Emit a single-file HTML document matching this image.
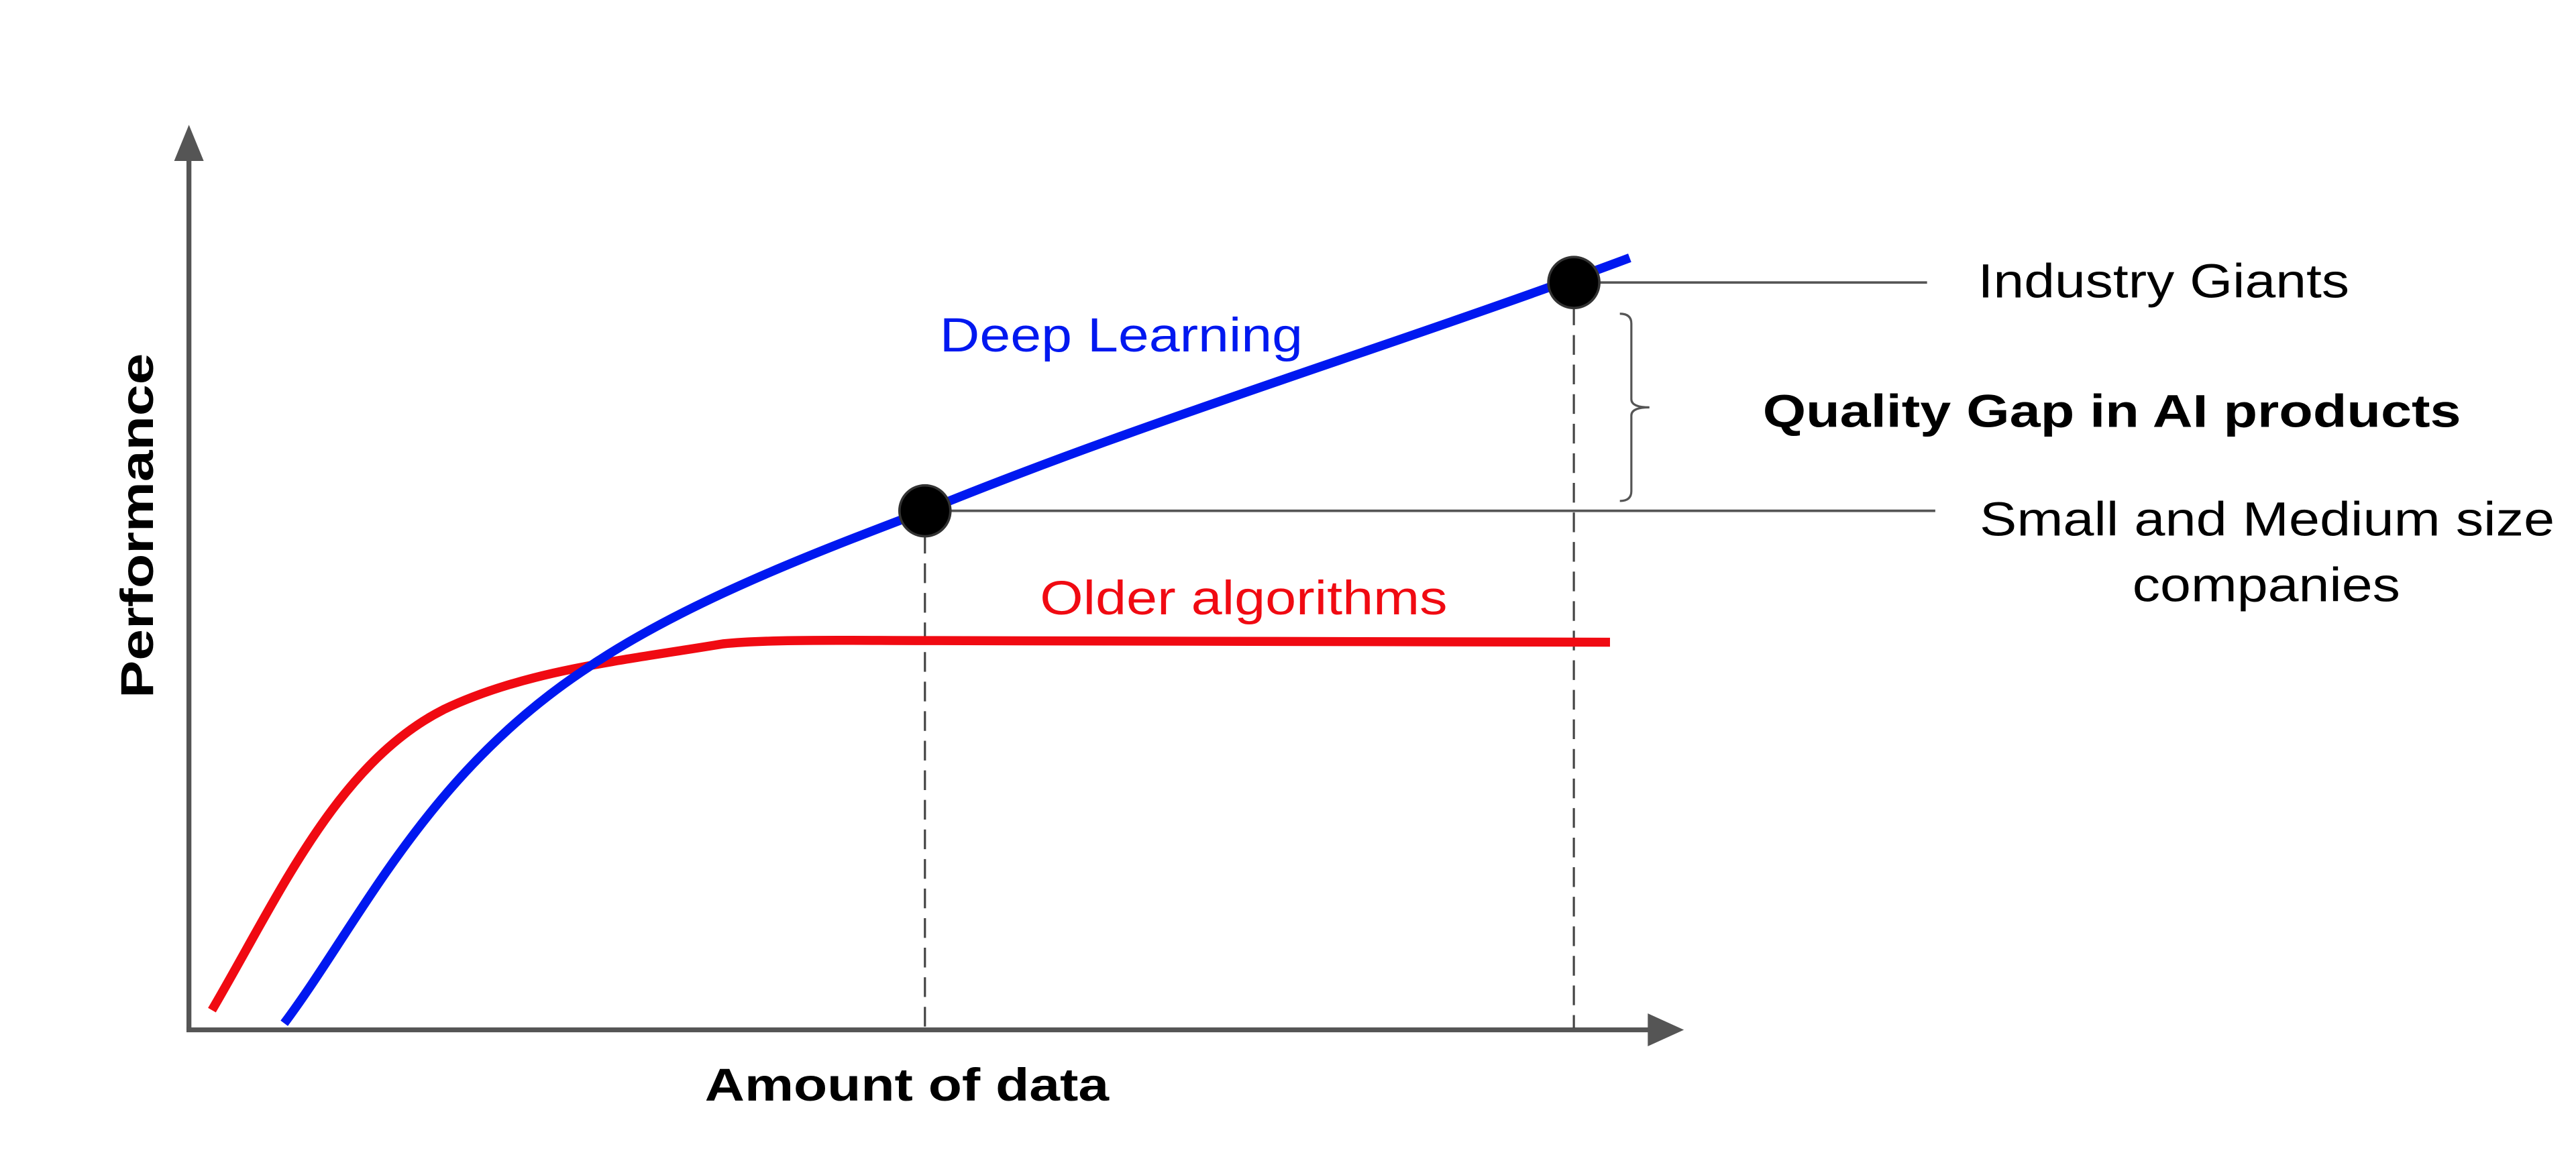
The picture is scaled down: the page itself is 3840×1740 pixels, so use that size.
<!DOCTYPE html>
<html><head><meta charset="utf-8"><style>
html,body{margin:0;padding:0;background:#fff;}
svg{display:block;}
text{font-family:"Liberation Sans",Arial,sans-serif;}
</style></head><body>
<svg width="3840" height="1740" viewBox="0 0 1568 710.5" preserveAspectRatio="none" xmlns="http://www.w3.org/2000/svg">
<rect width="1568" height="710.5" fill="#fff"/>
<line x1="115" y1="627" x2="115" y2="95" stroke="#555" stroke-width="3"/>
<polygon points="106,98 124,98 115,76" fill="#555"/>
<line x1="113.5" y1="627" x2="1006" y2="627" stroke="#555" stroke-width="3"/>
<polygon points="1003,617 1003,637 1025,627" fill="#555"/>
<line x1="563" y1="325" x2="563" y2="626" stroke="#444" stroke-width="1.3" stroke-dasharray="12,6"/>
<line x1="958" y1="186" x2="958" y2="626" stroke="#444" stroke-width="1.3" stroke-dasharray="12,6"/>
<line x1="958" y1="172" x2="1173" y2="172" stroke="#555" stroke-width="1.5"/>
<line x1="563" y1="311" x2="1178" y2="311" stroke="#555" stroke-width="1.5"/>
<path d="M986,191 Q993,191 993,197 L993,243 Q993,248 1004,248 Q993,248 993,253 L993,299 Q993,305 986,305" fill="none" stroke="#555" stroke-width="1.3"/>
<path d="M129,615 C170,545 205,465 270,432 C320,408 380,402 440,392 C470,389 520,390 560,390 L980,391" fill="none" stroke="#f00a12" stroke-width="5.5"/>
<path d="M173,623 C220,560 260,470 360,405 C420,365 500,335 563,311 C700,255 850,210 992,157" fill="none" stroke="#0018f0" stroke-width="5.5"/>
<circle cx="563" cy="311" r="15.5" fill="#000" stroke="#333" stroke-width="1.5"/>
<circle cx="958" cy="172" r="15.5" fill="#000" stroke="#333" stroke-width="1.5"/>
<text x="572" y="214" font-size="29" fill="#0018f0" textLength="221" lengthAdjust="spacingAndGlyphs">Deep Learning</text>
<text x="633" y="374" font-size="29" fill="#f00a12" textLength="248" lengthAdjust="spacingAndGlyphs">Older algorithms</text>
<text x="1204" y="181" font-size="29" fill="#000" textLength="226" lengthAdjust="spacingAndGlyphs">Industry Giants</text>
<text x="1073" y="260" font-size="28" font-weight="bold" fill="#000" textLength="425" lengthAdjust="spacingAndGlyphs">Quality Gap in AI products</text>
<text x="1205" y="326" font-size="29" fill="#000" textLength="350" lengthAdjust="spacingAndGlyphs">Small and Medium size</text>
<text x="1298" y="366" font-size="29" fill="#000" textLength="163" lengthAdjust="spacingAndGlyphs">companies</text>
<text x="429" y="670" font-size="28" font-weight="bold" fill="#000" textLength="246" lengthAdjust="spacingAndGlyphs">Amount of data</text>
<text transform="translate(93,425) rotate(-90)" x="0" y="0" font-size="28" font-weight="bold" fill="#000" textLength="210" lengthAdjust="spacingAndGlyphs">Performance</text>
</svg>
</body></html>
